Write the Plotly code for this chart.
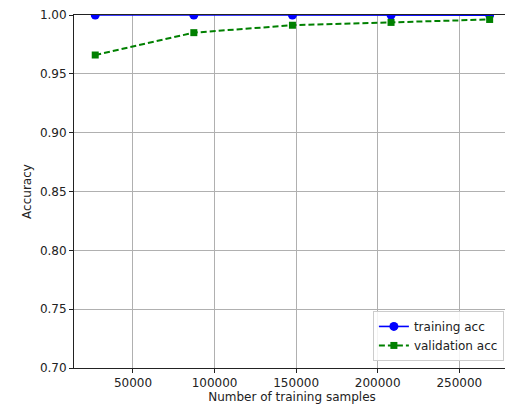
import plotly.graph_objects as go

train_sizes = [26860, 87295, 147730, 208165, 268600]
train_acc = [1.0, 1.0, 1.0, 1.0, 0.9999]
val_acc = [0.966, 0.985, 0.9913, 0.9937, 0.9962]

y_ticks = [0.70, 0.75, 0.80, 0.85, 0.90, 0.95, 1.00]
x_ticks = [50000, 100000, 150000, 200000, 250000]

font = dict(family="DejaVu Sans", size=12, color="#222222")

fig = go.Figure()
fig.add_trace(go.Scatter(
    x=train_sizes, y=train_acc, mode="lines+markers", name="training acc",
    line=dict(color="blue", width=1.6),
    marker=dict(symbol="circle", size=9, color="blue"),
    cliponaxis=True,
))
fig.add_trace(go.Scatter(
    x=train_sizes, y=val_acc, mode="lines+markers", name="validation acc",
    line=dict(color="green", width=2, dash="6px,3px"),
    marker=dict(symbol="square", size=7, color="green"),
    cliponaxis=True,
))

axis_common = dict(
    showgrid=True, gridcolor="#b0b0b0", gridwidth=0.8,
    showline=True, linecolor="#222222", linewidth=1, mirror=True,
    ticks="outside", ticklen=4, tickcolor="#222222", tickwidth=1,
    zeroline=False, tickfont=font, automargin=False,
)

# white mask above the plot area so markers look clipped at the axes edge
fig.add_shape(type="rect", xref="paper", yref="paper",
              x0=-0.002, x1=1.01, y0=1.0036, y1=1.04,
              fillcolor="white", line=dict(width=0), layer="above")

# page body has an 8px margin: figure drawn at (8, 8)
fig.update_layout(
    width=505, height=400,
    margin=dict(l=66, r=3, t=7, b=40),
    paper_bgcolor="white", plot_bgcolor="white",
    font=font,
    xaxis=dict(range=[13850, 281070], tickvals=x_ticks,
               ticktext=[str(v) for v in x_ticks],
               title=dict(text="Number of training samples", font=font, standoff=2),
               **axis_common),
    yaxis=dict(range=[0.70, 1.00], tickvals=y_ticks,
               ticktext=[f"{v:.2f}" for v in y_ticks],
               title=dict(text="Accuracy", font=font, standoff=5),
               **axis_common),
    legend=dict(x=0.986, y=0.02, xanchor="right", yanchor="bottom",
                bgcolor="rgba(255,255,255,0.85)", bordercolor="#cccccc", borderwidth=1,
                font=font, tracegroupgap=2),
    showlegend=True,
)

fig.write_html("out.html")
